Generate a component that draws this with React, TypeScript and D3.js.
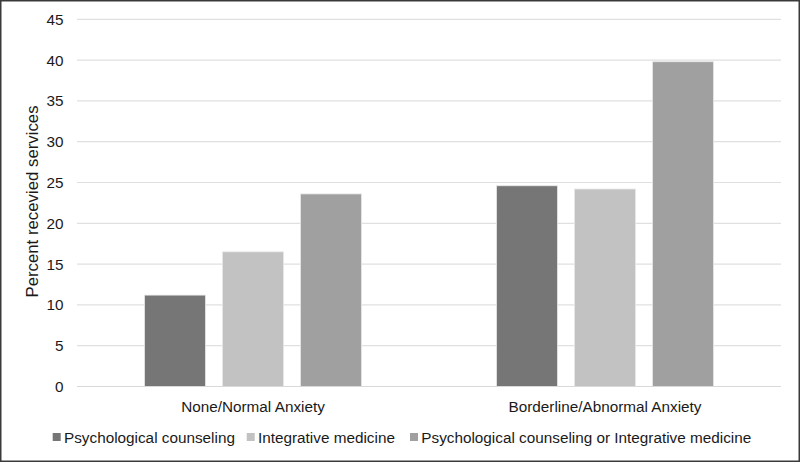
import React from "react";
import * as d3 from "d3";

const categories = ["None/Normal Anxiety", "Borderline/Abnormal Anxiety"];
const seriesNames = [
  "Psychological counseling",
  "Integrative medicine",
  "Psychological counseling or Integrative medicine",
];
const psychCounseling = [11.2, 24.6];
const integrativeMed = [16.5, 24.2];
const either = [23.6, 39.8];
const yTicks = [0, 5, 10, 15, 20, 25, 30, 35, 40, 45];
const colors = ["#767676", "#c2c2c2", "#a0a0a0"];

const W = 800;
const H = 462;
const FONT = "'Liberation Sans', Arial, sans-serif";
const FS = 15.3;

export default function App() {
  const values = [psychCounseling, integrativeMed, either];
  const left = 77;
  const right = 781;
  const top = 19.3;
  const bottom = 386.5;

  const x0 = d3.scaleBand<string>().domain(categories).range([left, right]).paddingInner(0).paddingOuter(0);
  const groupW = 217;
  const x1 = d3
    .scaleBand<number>()
    .domain([0, 1, 2])
    .range([0, groupW])
    .paddingInner(17 / 78)
    .paddingOuter(0);
  const y = d3.scaleLinear().domain([0, 45]).range([bottom, top]);

  const legendSq = [52.7, 246.7, 410];

  return (
    <svg
      width={W}
      height={H}
      style={{ position: "absolute", left: 0, top: 0, display: "block", background: "#fff" }}
      fontFamily={FONT}
    >
      <rect x={0} y={0} width={W} height={H} fill="#fff" />
      {yTicks.map((t) => (
        <g key={t}>
          <line x1={left} x2={right} y1={y(t)} y2={y(t)} stroke="#e0e0e0" strokeWidth={1.2} />
          <text x={63.5} y={y(t)} dy="0.36em" textAnchor="end" fontSize={FS} fill="#1a1a1a">
            {t}
          </text>
        </g>
      ))}
      {categories.map((c, ci) => {
        const gx = (x0(c) as number) + (x0.bandwidth() - groupW) / 2;
        return (
          <g key={c}>
            {values.map((s, si) => (
              <rect
                key={si}
                x={gx + (x1(si) as number)}
                y={y(s[ci])}
                width={x1.bandwidth()}
                height={bottom - y(s[ci])}
                fill={colors[si]}
                stroke="#e8e8e8"
                strokeWidth={0.8}
              />
            ))}
            <text
              x={(x0(c) as number) + x0.bandwidth() / 2}
              y={411.7}
              textAnchor="middle"
              fontSize={FS}
              fill="#1a1a1a"
            >
              {c}
            </text>
          </g>
        );
      })}
      <line x1={left} x2={right} y1={bottom} y2={bottom} stroke="#d9d9d9" strokeWidth={1.2} />
      <text
        transform={`translate(38,201.5) rotate(-90)`}
        textAnchor="middle"
        fontSize={16.8}
        fill="#1a1a1a"
      >
        Percent recevied services
      </text>
      {seriesNames.map((n, i) => (
        <g key={n}>
          <rect x={legendSq[i]} y={433} width={8} height={8} fill={colors[i]} />
          <text x={legendSq[i] + 11.3} y={442.7} fontSize={FS} fill="#1a1a1a">
            {n}
          </text>
        </g>
      ))}
      <rect x={0.75} y={0.75} width={W - 1.5} height={H - 1.5} fill="none" stroke="#3a3a3a" strokeWidth={1.5} />
    </svg>
  );
}
